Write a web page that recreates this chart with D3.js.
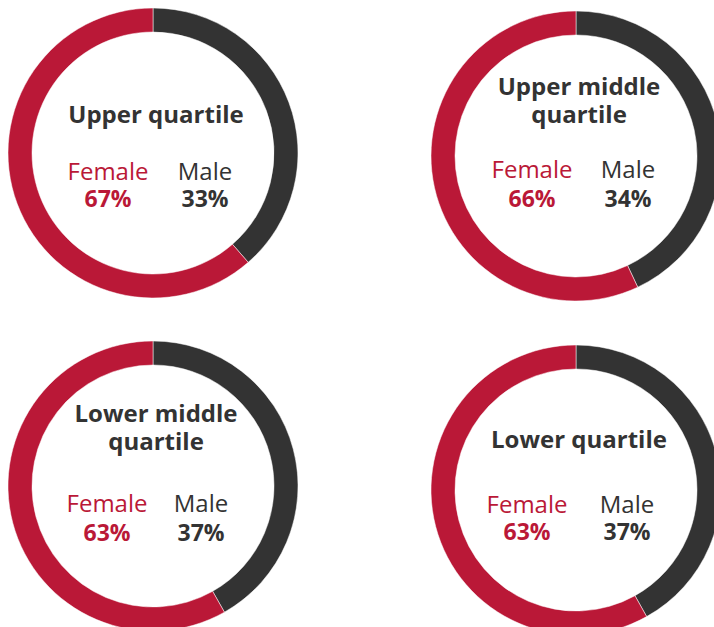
<!DOCTYPE html>
<html>
<head>
<meta charset="utf-8">
<script src="https://cdn.jsdelivr.net/npm/d3@7"></script>
<style>
  body { margin: 0; background: #fff; }
  svg { display: block; font-family: "Open Sans", sans-serif; }
</style>
</head>
<body>
<div id="chart"></div>
<script>
// data
var quartiles = ["Upper quartile", "Upper middle quartile", "Lower middle quartile", "Lower quartile"];
var titleLines = [["Upper quartile"], ["Upper middle", "quartile"], ["Lower middle", "quartile"], ["Lower quartile"]];
var genders = ["Male", "Female"];
// percentages printed in the middle
var femalePct = [67, 66, 63, 63];
var malePct = [33, 34, 37, 37];
// share of the ring as drawn
var ringMale = [38.6, 43.0, 41.8, 41.9];
var ringFemale = [61.4, 57.0, 58.2, 58.1];

// layout of the 4 panels (centre and text offsets)
var panels = [
  {cx: 153, cy: 153, titleY: -30, labelY: 27, pctY: 54, fx: -45, mx: 52},
  {cx: 576, cy: 156, titleY: -61, labelY: 22, pctY: 51, fx: -44, mx: 52},
  {cx: 153, cy: 486, titleY: -64, labelY: 26, pctY: 55, fx: -46, mx: 48},
  {cx: 576, cy: 490, titleY: -42, labelY: 23, pctY: 50, fx: -49, mx: 51}
];

var width = 714, height = 627;
var outerRadius = 145, innerRadius = 121;

var color = d3.scaleOrdinal()
    .domain(genders)
    .range(["#333333", "#BA1837"]);

var pie = d3.pie()
    .sort(null)
    .value(function(d) { return d.value; });

var arc = d3.arc()
    .outerRadius(outerRadius)
    .innerRadius(innerRadius);

var svg = d3.select("#chart").append("svg")
    .attr("width", width)
    .attr("height", height);

quartiles.forEach(function(q, i) {
  var p = panels[i];
  var values = [
    {gender: "Male", value: ringMale[i]},
    {gender: "Female", value: ringFemale[i]}
  ];

  var g = svg.append("g")
      .attr("class", "donut")
      .attr("transform", "translate(" + p.cx + "," + p.cy + ")");

  g.selectAll("path")
    .data(pie(values))
    .enter().append("path")
      .attr("d", arc)
      .attr("fill", function(d) { return color(d.data.gender); })
      .attr("stroke", "#fff")
      .attr("stroke-width", 0.5);

  // title
  titleLines[i].forEach(function(line, j) {
    g.append("text")
      .attr("x", 3)
      .attr("y", p.titleY + j * 28)
      .attr("text-anchor", "middle")
      .style("font-size", "24px")
      .style("font-weight", "bold")
      .style("fill", "#333333")
      .text(line);
  });

  var labels = [
    {gender: "Female", pct: femalePct[i], x: p.fx},
    {gender: "Male", pct: malePct[i], x: p.mx}
  ];

  labels.forEach(function(l) {
    g.append("text")
      .attr("x", l.x)
      .attr("y", p.labelY)
      .attr("text-anchor", "middle")
      .style("font-size", "24px")
      .style("fill", color(l.gender))
      .text(l.gender);

    g.append("text")
      .attr("x", l.x)
      .attr("y", p.pctY)
      .attr("text-anchor", "middle")
      .style("font-size", "23px")
      .style("font-weight", "bold")
      .style("fill", color(l.gender))
      .text(l.pct + "%");
  });
});
</script>
</body>
</html>
